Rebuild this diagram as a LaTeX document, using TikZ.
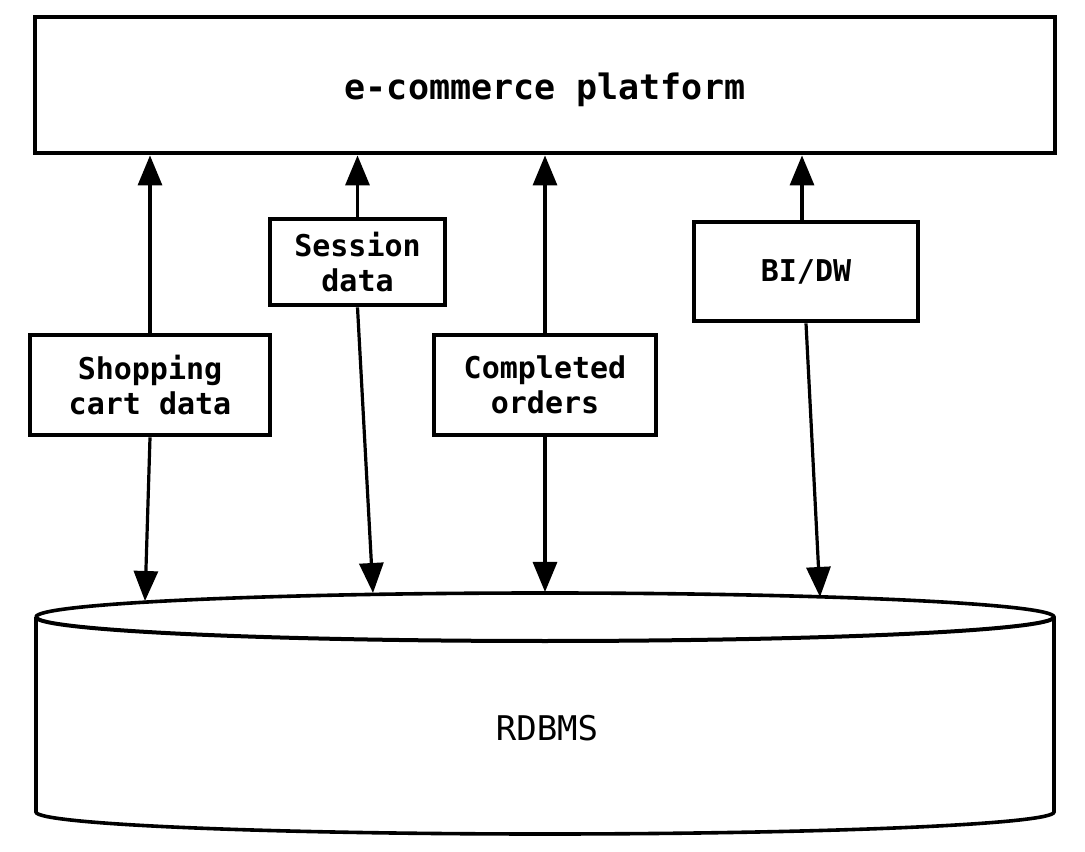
\documentclass[tikz,border=0pt]{standalone}
\usepackage{fontspec}
\setmonofont{DejaVu Sans Mono}
\usetikzlibrary{arrows.meta, positioning}

\begin{document}
\begin{tikzpicture}[x=1pt, y=1pt,
    box/.style={rectangle, draw, line width=2.4pt, align=center, inner sep=0pt,
        font=\ttfamily\bfseries\fontsize{15}{17.5}\selectfont},
    flow/.style={line width=1.6pt, -{Triangle[length=15pt, width=12pt]}}]
        \useasboundingbox (0,0) rectangle (542.5,425.5);

        \node[box, minimum width=510pt, minimum height=68pt, text height=19pt, text depth=4pt,
            font=\ttfamily\bfseries\fontsize{17.5}{21}\selectfont](platform) at (272.5,383){e-commerce platform};
        \node[box, minimum width=120pt, minimum height=50pt](shop) at (75,233){Shopping\\cart data};
        \node[box, minimum width=87.5pt, minimum height=43pt](session) at (178.75,294.5){Session\\data};
        \node[box, minimum width=111pt, minimum height=50pt](orders) at (272.5,233){Completed\\orders};
        \node[box, minimum width=112pt, minimum height=49.5pt](bidw) at (403,289.75){BI/DW};

        % database
        \draw[line width=1.8pt] (18,117) -- (18,19.5)
            arc[start angle=180, end angle=360, x radius=254.5, y radius=11] -- (527,117)
            arc[start angle=0, end angle=180, x radius=254.5, y radius=12];
        \draw[line width=2pt] (18,117) arc[start angle=180, end angle=360, x radius=254.5, y radius=12];
        \node[font=\ttfamily\fontsize{17}{20}\selectfont](rdbms) at (273.5,61.5){RDBMS};

        \coordinate (shopin) at (72.5,125);
        \coordinate (sessionin) at (186.5,129);
        \coordinate (ordersin) at (272.5,129.5);
        \coordinate (bidwin) at (410,127);

        \path[flow]
        (shop.north) edge (shop.north |- platform.south)
        (session.north) edge (session.north |- platform.south)
        (orders.north) edge (orders.north |- platform.south)
        ([xshift=-2pt]bidw.north) edge ([xshift=-2pt]bidw.north |- platform.south)
        (shop.south) edge (shopin)
        (session.south) edge (sessionin)
        (orders.south) edge (ordersin)
        (bidw.south) edge (bidwin)
        ;
    \end{tikzpicture}
\end{document}
